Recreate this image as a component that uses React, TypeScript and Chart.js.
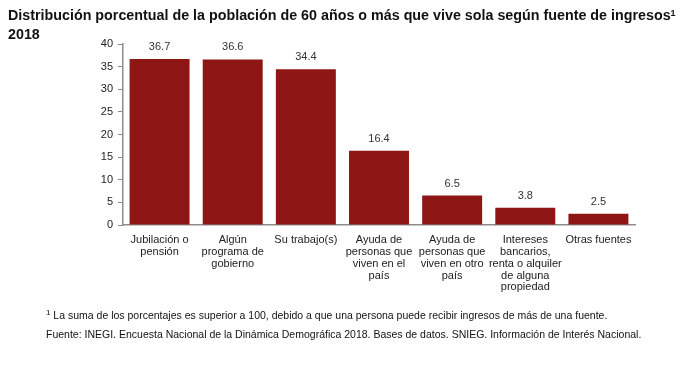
import React, { useEffect, useRef } from "react";
import { Chart, registerables } from "chart.js";

Chart.register(...registerables);

const categories: string[][] = [
  ["Jubilación o", "pensión"],
  ["Algún", "programa de", "gobierno"],
  ["Su trabajo(s)"],
  ["Ayuda de", "personas que", "viven en el", "país"],
  ["Ayuda de", "personas que", "viven en otro", "país"],
  ["Intereses", "bancarios,", "renta o alquiler", "de alguna", "propiedad"],
  ["Otras fuentes"],
];
const values: number[] = [36.7, 36.6, 34.4, 16.4, 6.5, 3.8, 2.5];
const yTicks: number[] = [0, 5, 10, 15, 20, 25, 30, 35, 40];

const FONT = "'Liberation Sans', Arial, sans-serif";
const BAR = "#8E1716";

const valueLabels = {
  id: "valueLabels",
  afterDatasetsDraw(chart: any) {
    const ctx = chart.ctx;
    const meta = chart.getDatasetMeta(0);
    ctx.save();
    ctx.font = `11px ${FONT}`;
    ctx.fillStyle = "#333333";
    ctx.textAlign = "center";
    ctx.textBaseline = "middle";
    meta.data.forEach((bar: any, i: number) => {
      ctx.fillText(values[i].toFixed(1), bar.x, bar.y - 12);
    });
    ctx.restore();
  },
};

export default function App() {
  const ref = useRef<HTMLCanvasElement>(null);
  useEffect(() => {
    document.body.style.margin = "0";
    const chart = new Chart(ref.current!, {
      type: "bar",
      data: {
        labels: categories,
        datasets: [
          {
            data: values,
            backgroundColor: BAR,
            borderWidth: 0,
            categoryPercentage: 0.82,
            barPercentage: 1,
          },
        ],
      },
      options: {
        animation: false,
        responsive: false,
        maintainAspectRatio: false,
        layout: { padding: { left: 83, top: 44, right: 61, bottom: 0 } },
        plugins: {
          legend: { display: false },
          tooltip: { enabled: false },
          title: { display: false },
        },
        scales: {
          x: {
            grid: { display: false },
            border: { display: true, color: "#8c8c8c", width: 1.5 },
            ticks: {
              color: "#222222",
              font: { family: FONT, size: 11, lineHeight: 1.08 },
              padding: 1,
              maxRotation: 0,
              autoSkip: false,
            },
            afterFit: (s: any) => {
              s.height = 145;
            },
          },
          y: {
            min: 0,
            max: 40,
            afterBuildTicks: (s: any) => {
              s.ticks = yTicks.map((v) => ({ value: v }));
            },
            grid: {
              display: true,
              drawOnChartArea: false,
              drawTicks: true,
              tickLength: 5,
              color: "#8c8c8c",
            },
            border: { display: true, color: "#8c8c8c", width: 1.5 },
            ticks: {
              color: "#222222",
              font: { family: FONT, size: 11 },
              padding: 5,
            },
            afterFit: (s: any) => {
              s.width = 40;
            },
          },
        },
      },
      plugins: [valueLabels],
    });
    return () => chart.destroy();
  }, []);

  return (
    <div style={{ position: "relative", width: 696, height: 370, fontFamily: FONT, background: "#fff" }}>
      <canvas ref={ref} width={696} height={370} style={{ position: "absolute", left: 0, top: 0 }} />
      <div
        style={{
          position: "absolute",
          left: 8,
          top: 6,
          fontSize: 14.3,
          fontWeight: "bold",
          lineHeight: "19px",
          color: "#111",
          whiteSpace: "nowrap",
        }}
      >
        Distribución porcentual de la población de 60 años o más que vive sola según fuente de ingresos
        <sup style={{ fontSize: 9, verticalAlign: "top", position: "relative", top: -2 }}>1</sup>
        <br />
        2018
      </div>
      <div
        style={{
          position: "absolute",
          left: 46,
          top: 306,
          fontSize: 10.5,
          lineHeight: "19px",
          color: "#111",
          whiteSpace: "nowrap",
        }}
      >
        <sup style={{ fontSize: 8, verticalAlign: "top", position: "relative", top: -3 }}>1</sup> La suma de los porcentajes es superior a 100, debido a que una persona puede recibir ingresos de más de una fuente.
        <br />
        Fuente: INEGI. Encuesta Nacional de la Dinámica Demográfica 2018. Bases de datos. SNIEG. Información de Interés Nacional.
      </div>
    </div>
  );
}
